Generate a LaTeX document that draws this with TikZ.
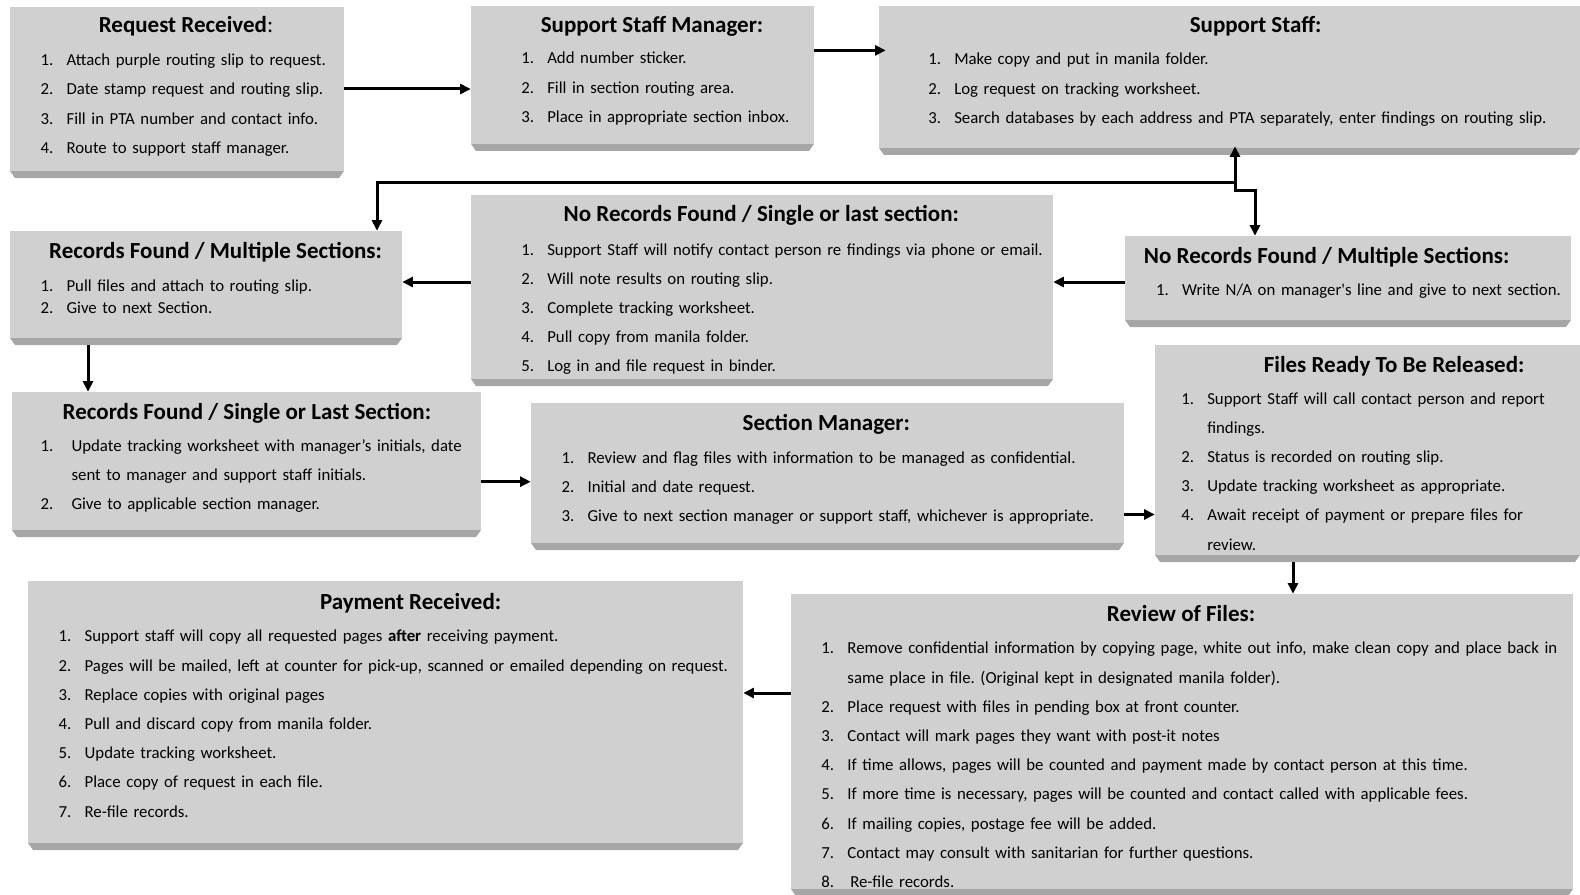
\documentclass[tikz,border=0pt]{standalone}
\usepackage{fontspec}
\setmainfont{Carlito}
\newfontfamily\rawfont[Ligatures=TeXOff]{Carlito}
\usetikzlibrary{arrows.meta,fit,calc}
\definecolor{face}{HTML}{D0D0D0}
\definecolor{band}{HTML}{A6A6A6}
\newlength\lind
\setlength\lind{19.5pt}
\frenchspacing
\newcommand{\li}[2]{\hangindent=\lind\hangafter=1\noindent\makebox[\lind][l]{#1}#2\par}
\newcommand{\fbx}[5]{%
  \fill[band] (#2,#5) -- (#4,#5) -- (#4-5,#5+7) -- (#2+5,#5+7) -- cycle;
  \node[boxface, fit={(#2,#3) (#4,#5)}] (#1) {};}
\tikzset{
  boxface/.style={fill=face, draw=none, inner sep=0pt},
  ttl/.style={font=\fontsize{17.25pt}{20pt}\selectfont\bfseries, anchor=base, inner sep=0pt},
  lst/.style={font=\fontsize{12.6pt}{21.9pt}\selectfont\frenchspacing, anchor=base west, inner sep=0pt, text width=#1, align=left},
  arr/.style={line width=2.25pt, -{Triangle[length=8pt,width=7.5pt]}},
}
\begin{document}
\begin{tikzpicture}[x=0.75pt,y=-0.75pt]
\useasboundingbox (0,0) rectangle (1580,895);
% boxes
\fbx{b1}{10}{7}{344}{171}
\fbx{b2}{471}{6}{814}{144}
\fbx{b3}{879}{6}{1580}{148}
\fbx{b4}{471}{195}{1053}{379}
\fbx{b5}{10}{231}{402}{338}
\fbx{b6}{1125}{236}{1571}{320}
\fbx{b7}{12}{392}{481}{530}
\fbx{b8}{531}{403}{1124}{543}
\fbx{b9}{1155}{345}{1580}{555}
\fbx{b10}{28}{581}{743}{843}
\fbx{b11}{791}{594}{1573}{889}
% titles
\node[ttl] (t1) at (186,32.7) {Request Received\textmd{:}};
\node[ttl] (t2) at (652,32.7) {Support Staff Manager:};
\node[ttl] (t3) at (1255.6,32.7) {Support Staff:};
\node[ttl] (t4) at (761.3,221.5) {No Records Found / Single or last section:};
\node[ttl] (t5) at (215.6,258.4) {Records Found / Multiple Sections:};
\node[ttl] (t6) at (1326.6,263) {No Records Found / Multiple Sections:};
\node[ttl] (t7) at (246.9,419.3) {Records Found / Single or Last Section:};
\node[ttl] (t8) at (826.3,430.4) {Section Manager:};
\node[ttl] (t9) at (1394.1,372) {Files Ready To Be Released:};
\node[ttl] (t10) at (410.6,609.2) {Payment Received:};
\node[ttl] (t11) at (1181,621.4) {Review of Files:};
% lists
\node[lst=700pt] (l1) at (40.3,65.8) {%
\li{1.}{Attach purple routing slip to request.}
\li{2.}{Date stamp request and routing slip.}
\li{3.}{Fill in PTA number and contact info.}
\li{4.}{Route to support staff manager.}};
\node[lst=700pt] (l2) at (521,64) {%
\li{1.}{Add number sticker.}
\li{2.}{Fill in section routing area.}
\li{3.}{Place in appropriate section inbox.}};
\node[lst=700pt] (l3) at (928,65) {%
\li{1.}{Make copy and put in manila folder.}
\li{2.}{Log request on tracking worksheet.}
\li{3.}{Search databases by each address and PTA separately, enter findings on routing slip.}};
\node[lst=700pt] (l4) at (521,255) {%
\li{1.}{Support Staff will notify contact person re findings via phone or email.}
\li{2.}{Will note results on routing slip.}
\li{3.}{Complete tracking worksheet.}
\li{4.}{Pull copy from manila folder.}
\li{5.}{Log in and file request in binder.}};
\node[lst=700pt] (l5) at (40.3,291) {\fontsize{12.6pt}{16.6pt}\selectfont
\li{1.}{Pull files and attach to routing slip.}
\li{2.}{Give to next Section.}};
\node[lst=700pt] (l6) at (1155.8,295) {%
\li{1.}{Write N/A on manager{\rawfont '}s line and give to next section.}};
\node[lst=700pt] (l7) at (40.3,451.4) {\setlength\lind{23.25pt}%
\li{1.}{Update tracking worksheet with manager’s initials, date\newline sent to manager and support staff initials.}
\li{2.}{Give to applicable section manager.}};
\node[lst=700pt] (l8) at (561.3,463) {%
\li{1.}{Review and flag files with information to be managed as confidential.}
\li{2.}{Initial and date request.}
\li{3.}{Give to next section manager or support staff, whichever is appropriate.}};
\node[lst=700pt] (l9) at (1181,404) {%
\li{1.}{Support Staff will call contact person and report\newline findings.}
\li{2.}{Status is recorded on routing slip.}
\li{3.}{Update tracking worksheet as appropriate.}
\li{4.}{Await receipt of payment or prepare files for\newline review.}};
\node[lst=700pt] (l10) at (58.4,641.8) {%
\li{1.}{Support staff will copy all requested pages \textbf{after} receiving payment.}
\li{2.}{Pages will be mailed, left at counter for pick-up, scanned or emailed depending on request.}
\li{3.}{Replace copies with original pages}
\li{4.}{Pull and discard copy from manila folder.}
\li{5.}{Update tracking worksheet.}
\li{6.}{Place copy of request in each file.}
\li{7.}{Re-file records.}};
\node[lst=700pt] (l11) at (821.2,653.9) {%
\li{1.}{Remove confidential information by copying page, white out info, make clean copy and place back in\newline same place in file. (Original kept in designated manila folder).}
\li{2.}{Place request with files in pending box at front counter.}
\li{3.}{Contact will mark pages they want with post-it notes}
\li{4.}{If time allows, pages will be counted and payment made by contact person at this time.}
\li{5.}{If more time is necessary, pages will be counted and contact called with applicable fees.}
\li{6.}{If mailing copies, postage fee will be added.}
\li{7.}{Contact may consult with sanitarian for further questions.}
\li{8.}{\,Re-file records.}};
% connectors
\coordinate (ya2) at (0,50.4);
\coordinate (J) at (1235,182);
\coordinate (c5) at (377,182);
\coordinate (c6) at (1255,190);
\coordinate (ya4) at (0,282);
\coordinate (xa6) at (88,0);
\coordinate (ya7) at (0,481.7);
\coordinate (ya8) at (0,514.5);
\coordinate (xa9) at (1293,0);
\coordinate (ya10) at (0,693);
\draw[arr] (b1.east) -- (b1.east -| b2.west);
\draw[arr] (b2.east |- ya2) -- ($(b3.west |- ya2)+(7,0)$);
\draw[arr] (J) -- ($(J |- b3.south)+(0,-2)$);
\draw[arr] (J) -- (c5) -- (c5 |- b5.north);
\draw[arr] (J) -- (J |- c6) -- (c6) -- (c6 |- b6.north);
\draw[arr] (b4.west |- ya4) -- (b5.east |- ya4);
\draw[arr] (b6.west |- ya4) -- (b4.east |- ya4);
\draw[arr] ($(b5.south -| xa6)+(0,7)$) -- (b7.north -| xa6);
\draw[arr] (b7.east |- ya7) -- (b8.west |- ya7);
\draw[arr] (b8.east |- ya8) -- (b9.west |- ya8);
\draw[arr] ($(b9.south -| xa9)+(0,7)$) -- (b11.north -| xa9);
\draw[arr] (b11.west |- ya10) -- (b10.east |- ya10);
\end{tikzpicture}
\end{document}
